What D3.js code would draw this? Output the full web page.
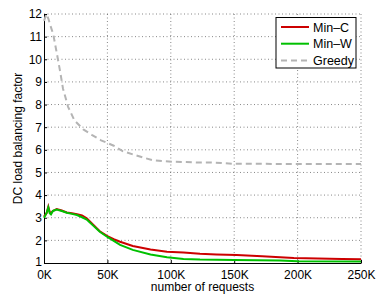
<!DOCTYPE html>
<html>
<head>
<meta charset="utf-8">
<script src="https://cdn.jsdelivr.net/npm/d3@7"></script>
<style>
  body { margin: 0; background: #fff; }
  text { font-family: "Liberation Sans", Arial, sans-serif; fill: #000; }
</style>
</head>
<body>
<div id="chart-area"></div>
<script>
// values, x in thousands of requests
var minCX = [0, 2, 3.4, 4.5, 5.5, 7, 10, 14, 18, 22, 26, 30, 33.7, 36, 39, 44, 50, 55, 60, 70, 84, 97, 110, 123, 136, 152, 172, 197, 235, 250];
var minCY = [3.05, 3.2, 3.49, 3.25, 3.2, 3.3, 3.38, 3.32, 3.23, 3.2, 3.15, 3.1, 2.98, 2.85, 2.68, 2.4, 2.19, 2.05, 1.94, 1.75, 1.6, 1.5, 1.46, 1.41, 1.38, 1.35, 1.3, 1.22, 1.18, 1.17];

var minWX = [0, 2, 3.4, 4.5, 5.5, 7, 10, 14, 18, 22, 26, 30, 33.7, 36, 39, 44, 50, 55, 60, 70, 84, 97, 110, 123, 150, 186, 200, 250];
var minWY = [3.0, 3.2, 3.45, 3.2, 3.15, 3.3, 3.36, 3.3, 3.22, 3.17, 3.12, 3.02, 2.92, 2.8, 2.64, 2.38, 2.15, 1.98, 1.8, 1.58, 1.38, 1.25, 1.18, 1.15, 1.13, 1.11, 1.08, 1.07];

var greedyX = [0, 2, 3.4, 5, 7.3, 10, 12.6, 15, 19, 24, 31, 38, 45, 55, 62, 70, 78, 86, 95, 103, 112, 120, 130, 140, 150, 175, 200, 225, 250];
var greedyY = [11.7, 12, 11.8, 11.5, 11.1, 10.3, 9.5, 8.7, 7.9, 7.3, 6.9, 6.65, 6.42, 6.18, 5.94, 5.8, 5.66, 5.54, 5.5, 5.47, 5.46, 5.44, 5.44, 5.42, 5.38, 5.38, 5.37, 5.37, 5.37];

var seriesNames = ["Min\u2013C", "Min\u2013W", "Greedy"];
var xTicks = [0, 50, 100, 150, 200, 250];
var yTicks = [1, 2, 3, 4, 5, 6, 7, 8, 9, 10, 11, 12];

var margin = {top: 14, right: 18, bottom: 32, left: 44};
var width = 379 - margin.left - margin.right,
    height = 295 - margin.top - margin.bottom;

var svg = d3.select("#chart-area")
    .append("svg")
    .attr("width", 379)
    .attr("height", 295)
    .append("g")
    .attr("transform", "translate(" + margin.left + "," + margin.top + ")");

var x = d3.scaleLinear().domain([0, 250]).range([0, width]);
var y = d3.scaleLinear().domain([1, 12]).range([height, 0]);

// dotted grid
svg.selectAll(".vgrid")
    .data(xTicks.slice(1))
    .enter().append("line")
    .attr("x1", function(d) { return x(d); })
    .attr("x2", function(d) { return x(d); })
    .attr("y1", 0)
    .attr("y2", height)
    .attr("stroke", "#555")
    .attr("stroke-width", 0.7)
    .attr("stroke-dasharray", "1,2.5");

svg.selectAll(".hgrid")
    .data(yTicks.slice(1))
    .enter().append("line")
    .attr("x1", 0)
    .attr("x2", width)
    .attr("y1", function(d) { return y(d); })
    .attr("y2", function(d) { return y(d); })
    .attr("stroke", "#555")
    .attr("stroke-width", 0.7)
    .attr("stroke-dasharray", "1,2.5");

// axes
var xAxis = d3.axisBottom(x)
    .tickValues(xTicks)
    .tickSize(-3)
    .tickSizeOuter(0)
    .tickPadding(7)
    .tickFormat(function(d) { return d + "K"; });

var yAxis = d3.axisLeft(y)
    .tickValues(yTicks)
    .tickSize(-3)
    .tickSizeOuter(0)
    .tickPadding(2);

var gx = svg.append("g")
    .attr("transform", "translate(0," + height + ")")
    .call(xAxis);
var gy = svg.append("g").call(yAxis);

[gx, gy].forEach(function(g) {
    g.select(".domain").attr("stroke", "#000").attr("stroke-width", 1);
    g.selectAll(".tick line").attr("stroke", "#000");
    g.selectAll(".tick text")
        .style("font-size", "12px")
        .style("font-family", "'Liberation Sans', Arial, sans-serif");
});

// the lowest y label sits a touch higher so it clears "0K"
gy.selectAll(".tick text").filter(function(d) { return d === 1; }).attr("dy", "0.2em");

// lines
var line = d3.line()
    .x(function(d) { return x(d[0]); })
    .y(function(d) { return y(d[1]); });

function zip(a, b) { return a.map(function(v, i) { return [v, b[i]]; }); }

svg.append("path")
    .datum(zip(greedyX, greedyY))
    .attr("fill", "none")
    .attr("stroke", "#b4b4b4")
    .attr("stroke-width", 2)
    .attr("stroke-dasharray", "6,4")
    .attr("d", line);

svg.append("path")
    .datum(zip(minCX, minCY))
    .attr("fill", "none")
    .attr("stroke", "#cc0000")
    .attr("stroke-width", 2)
    .attr("d", line);

svg.append("path")
    .datum(zip(minWX, minWY))
    .attr("fill", "none")
    .attr("stroke", "#00c000")
    .attr("stroke-width", 2)
    .attr("d", line);

// axis titles
svg.append("text")
    .attr("x", width / 2)
    .attr("y", height + 28)
    .attr("text-anchor", "middle")
    .style("font-size", "12px")
    .text("number of requests");

svg.append("text")
    .attr("transform", "translate(-22," + (height / 2) + ") rotate(-90)")
    .attr("text-anchor", "middle")
    .style("font-size", "12px")
    .text("DC load balancing factor");

// legend
var legend = svg.append("g")
    .attr("transform", "translate(" + (276 - margin.left) + "," + (17.5 - margin.top) + ")");

legend.append("rect")
    .attr("width", 80)
    .attr("height", 50.5)
    .attr("fill", "#fff")
    .attr("stroke", "#000")
    .attr("stroke-width", 1);

var legColors = ["#cc0000", "#00c000", "#b4b4b4"];
var legDash = [null, null, "6,4"];

var item = legend.selectAll(".item")
    .data(seriesNames)
    .enter().append("g")
    .attr("transform", function(d, i) { return "translate(0," + (9.5 + i * 16.7) + ")"; });

item.append("line")
    .attr("x1", 5)
    .attr("x2", 33)
    .attr("stroke", function(d, i) { return legColors[i]; })
    .attr("stroke-width", 2)
    .attr("stroke-dasharray", function(d, i) { return legDash[i]; });

item.append("text")
    .attr("x", 37)
    .attr("y", 4.5)
    .style("font-size", "12.5px")
    .text(function(d) { return d; });
</script>
</body>
</html>
